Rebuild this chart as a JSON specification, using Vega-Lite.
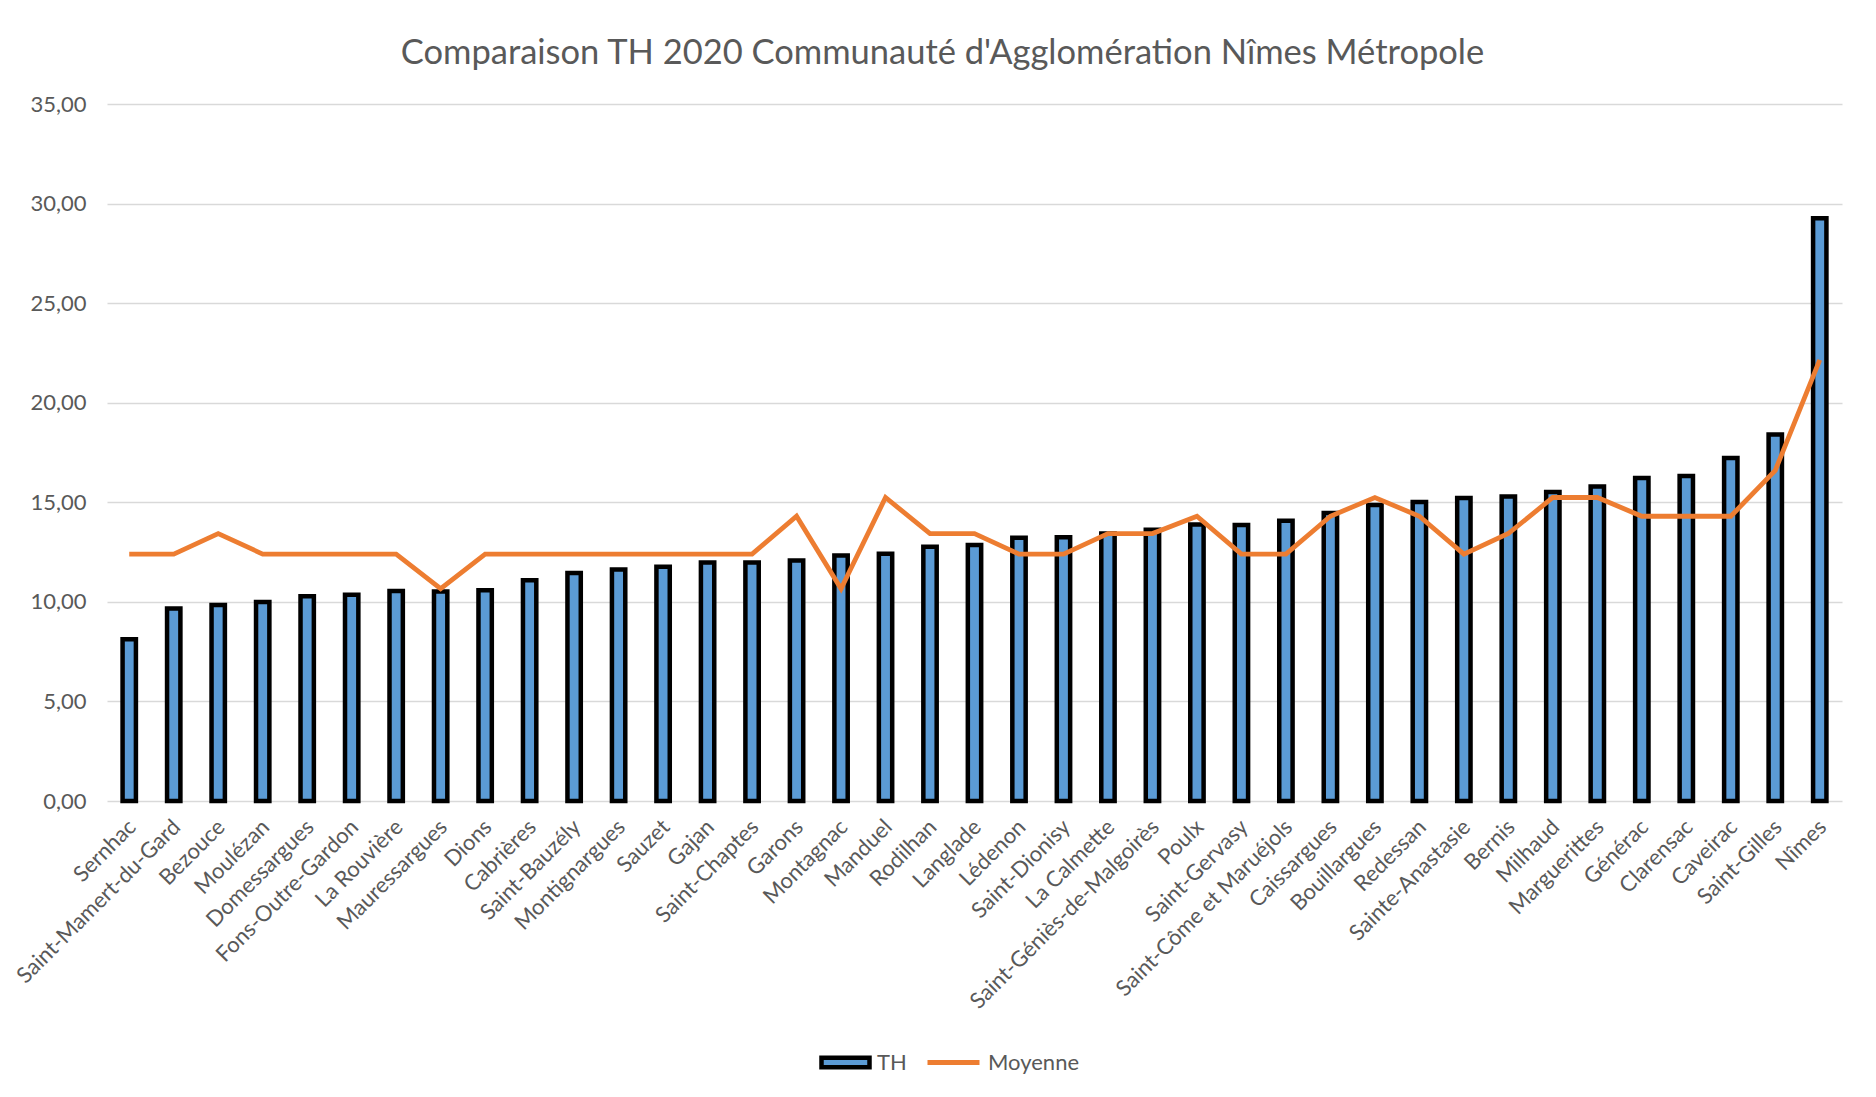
{
  "$schema": "https://vega.github.io/schema/vega-lite/v6.json",
  "width": 1735,
  "height": 697,
  "autosize": {"type": "none"},
  "padding": {"left": 107, "top": 104, "right": 34, "bottom": 296},
  "background": "white",
  "title": {
    "text": "Comparaison TH 2020 Communauté d'Agglomération Nîmes Métropole",
    "font": "Lato",
    "fontSize": 34.5,
    "fontWeight": "normal",
    "color": "#595959",
    "anchor": "middle",
    "frame": "group",
    "dx": -32,
    "offset": 22
  },
  "config": {
    "view": {"stroke": null},
    "font": "Lato"
  },
  "data": {
    "values": [
      {"commune": "Sernhac", "TH": 8.12, "Moyenne": 12.40},
      {"commune": "Saint-Mamert-du-Gard", "TH": 9.67, "Moyenne": 12.40},
      {"commune": "Bezouce", "TH": 9.84, "Moyenne": 13.43},
      {"commune": "Moulézan", "TH": 9.99, "Moyenne": 12.40},
      {"commune": "Domessargues", "TH": 10.28, "Moyenne": 12.40},
      {"commune": "Fons-Outre-Gardon", "TH": 10.36, "Moyenne": 12.40},
      {"commune": "La Rouvière", "TH": 10.54, "Moyenne": 12.40},
      {"commune": "Mauressargues", "TH": 10.52, "Moyenne": 10.66},
      {"commune": "Dions", "TH": 10.58, "Moyenne": 12.40},
      {"commune": "Cabrières", "TH": 11.08, "Moyenne": 12.40},
      {"commune": "Saint-Bauzély", "TH": 11.45, "Moyenne": 12.40},
      {"commune": "Montignargues", "TH": 11.63, "Moyenne": 12.40},
      {"commune": "Sauzet", "TH": 11.76, "Moyenne": 12.40},
      {"commune": "Gajan", "TH": 11.98, "Moyenne": 12.40},
      {"commune": "Saint-Chaptes", "TH": 11.98, "Moyenne": 12.40},
      {"commune": "Garons", "TH": 12.08, "Moyenne": 14.30},
      {"commune": "Montagnac", "TH": 12.33, "Moyenne": 10.66},
      {"commune": "Manduel", "TH": 12.41, "Moyenne": 15.24},
      {"commune": "Rodilhan", "TH": 12.77, "Moyenne": 13.43},
      {"commune": "Langlade", "TH": 12.85, "Moyenne": 13.43},
      {"commune": "Lédenon", "TH": 13.22, "Moyenne": 12.40},
      {"commune": "Saint-Dionisy", "TH": 13.25, "Moyenne": 12.40},
      {"commune": "La Calmette", "TH": 13.43, "Moyenne": 13.43},
      {"commune": "Saint-Géniès-de-Malgoirès", "TH": 13.62, "Moyenne": 13.43},
      {"commune": "Poulx", "TH": 13.88, "Moyenne": 14.30},
      {"commune": "Saint-Gervasy", "TH": 13.86, "Moyenne": 12.40},
      {"commune": "Saint-Côme et Maruéjols", "TH": 14.07, "Moyenne": 12.40},
      {"commune": "Caissargues", "TH": 14.46, "Moyenne": 14.30},
      {"commune": "Bouillargues", "TH": 14.86, "Moyenne": 15.24},
      {"commune": "Redessan", "TH": 15.01, "Moyenne": 14.30},
      {"commune": "Sainte-Anastasie", "TH": 15.21, "Moyenne": 12.40},
      {"commune": "Bernis", "TH": 15.29, "Moyenne": 13.43},
      {"commune": "Milhaud", "TH": 15.52, "Moyenne": 15.24},
      {"commune": "Marguerittes", "TH": 15.79, "Moyenne": 15.24},
      {"commune": "Générac", "TH": 16.22, "Moyenne": 14.30},
      {"commune": "Clarensac", "TH": 16.32, "Moyenne": 14.30},
      {"commune": "Caveirac", "TH": 17.22, "Moyenne": 14.30},
      {"commune": "Saint-Gilles", "TH": 18.41, "Moyenne": 16.60},
      {"commune": "Nîmes", "TH": 29.26, "Moyenne": 22.15}
    ]
  },
  "encoding": {
    "x": {
      "field": "commune",
      "type": "nominal",
      "sort": null,
      "title": null,
      "scale": {"paddingInner": 0, "paddingOuter": 0},
      "axis": {
        "labelAngle": -45,
        "labelAlign": "right",
        "labelBaseline": "middle",
        "labelFont": "Lato",
        "labelFontSize": 22,
        "labelColor": "#595959",
        "labelPadding": 22,
        "labelOffset": 3,
        "labelOverlap": false,
        "labelLimit": 400,
        "ticks": false,
        "domain": false,
        "grid": false
      }
    }
  },
  "layer": [
    {
      "mark": {
        "type": "bar",
        "width": {"band": 0.3},
        "stroke": "#000000",
        "strokeWidth": 4.5,
        "strokeJoin": "miter"
      },
      "encoding": {
        "y": {
          "field": "TH",
          "type": "quantitative",
          "title": null,
          "scale": {"domain": [0, 35], "nice": false},
          "axis": {
            "values": [0, 5, 10, 15, 20, 25, 30, 35],
            "labelExpr": "replace(format(datum.value, '.2f'), '.', ',')",
            "labelFont": "Lato",
            "labelFontSize": 22,
            "labelColor": "#595959",
            "labelPadding": 21,
            "ticks": false,
            "domain": false,
            "gridColor": "#D9D9D9",
            "gridWidth": 1.5
          }
        },
        "fill": {
          "datum": "TH",
          "type": "nominal",
          "scale": {"domain": ["TH"], "range": ["#5B9BD5"]},
          "legend": {
            "title": null,
            "orient": "none",
            "direction": "horizontal",
            "legendX": 712,
            "legendY": 932,
            "symbolType": "M-1,-0.2H1V0.2H-1Z",
            "symbolSize": 2304,
            "symbolStrokeColor": "#000000",
            "symbolStrokeWidth": 4.5,
            "symbolOpacity": 1,
            "labelFont": "Lato",
            "labelFontSize": 22,
            "labelColor": "#595959",
            "labelOffset": 5
          }
        }
      }
    },
    {
      "mark": {"type": "line", "strokeWidth": 4.8, "strokeJoin": "miter"},
      "encoding": {
        "y": {"field": "Moyenne", "type": "quantitative"},
        "stroke": {
          "datum": "Moyenne",
          "type": "nominal",
          "scale": {"domain": ["Moyenne"], "range": ["#ED7D31"]},
          "legend": {
            "title": null,
            "orient": "none",
            "direction": "horizontal",
            "legendX": 818,
            "legendY": 930,
            "symbolType": "stroke",
            "symbolSize": 2704,
            "symbolStrokeWidth": 5,
            "labelFont": "Lato",
            "labelFontSize": 22,
            "labelColor": "#595959",
            "labelOffset": 6
          }
        }
      }
    }
  ]
}
